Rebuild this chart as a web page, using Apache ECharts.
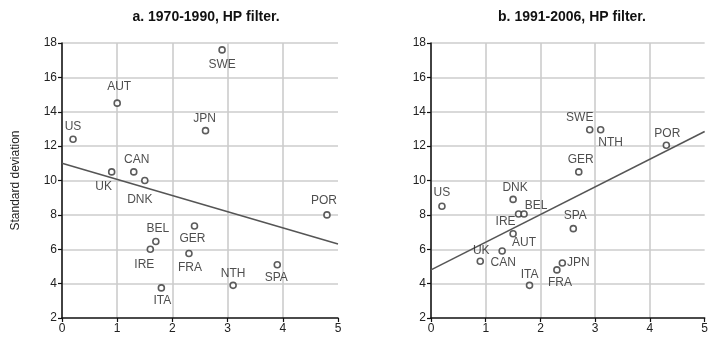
<!DOCTYPE html>
<html>
<head>
<meta charset="utf-8">
<script src="https://cdn.jsdelivr.net/npm/echarts@6/dist/echarts.min.js"></script>
<style>
html,body{margin:0;padding:0;background:#fff;}
#main{width:711px;height:339px;}
</style>
</head>
<body>
<div id="main"></div>
<script>
// 数据：各国 x / 标准差
var namesA=['US','AUT','SWE','JPN','CAN','UK','DNK','POR','BEL','IRE','GER','FRA','NTH','SPA','ITA'];
var xA=[0.2,1.0,2.9,2.6,1.3,0.9,1.5,4.8,1.7,1.6,2.4,2.3,3.1,3.9,1.8];
var yA=[12.4,14.5,17.6,12.9,10.5,10.5,10.0,8.0,6.45,6.0,7.35,5.75,3.9,5.1,3.75];
var lineA=[[0,11.0],[5,6.3]];

var namesB=['US','DNK','IRE','BEL','AUT','UK','CAN','ITA','FRA','JPN','SPA','GER','SWE','NTH','POR'];
var xB=[0.2,1.5,1.6,1.7,1.5,0.9,1.3,1.8,2.3,2.4,2.6,2.7,2.9,3.1,4.3];
var yB=[8.5,8.9,8.05,8.05,6.9,5.3,5.9,3.9,4.8,5.2,7.2,10.5,12.95,12.95,12.05];
var lineB=[[0,4.8],[5,12.85]];

var yTicks=[2,4,6,8,10,12,14,16,18];

// 标签偏移（样式）
var offA={US:[0,-13],AUT:[2,-16],SWE:[0,15],JPN:[-1,-12],CAN:[3,-12],UK:[-8,15],DNK:[-5,19],
	POR:[-3,-14],BEL:[2,-13],IRE:[-6,15],GER:[-2,13],FRA:[1,14],NTH:[0,-12],SPA:[-1,13],ITA:[1,13]};
var offB={US:[0,-14],DNK:[2,-12],IRE:[-13,8],BEL:[12,-8],AUT:[11,9],UK:[1,-11],CAN:[1,12],
	ITA:[0,-11],FRA:[3,13],JPN:[16,0],SPA:[2,-13],GER:[2,-12],SWE:[-10,-12],NTH:[10,13],POR:[1,-12]};

var font='"Liberation Sans", Arial, sans-serif';

function buildPoints(names,xs,ys,offs){
	var arr=[];
	for(var i=0;i<names.length;i++){
		arr.push({
			name:names[i],
			value:[xs[i],ys[i]],
			label:{offset:offs[names[i]]}
		});
	}
	return arr;
}

function xAxisOpt(idx){
	return {
		gridIndex:idx,type:'value',min:0,max:5,interval:1,
		axisLine:{show:true,onZero:false,lineStyle:{color:'#111',width:1.5}},
		axisTick:{show:true,length:4,lineStyle:{color:'#111',width:1.2}},
		axisLabel:{color:'#222',fontSize:12,fontFamily:font,margin:5},
		splitLine:{show:true,showMaxLine:false,lineStyle:{color:'#cccccc',width:1.6}}
	};
}
function yAxisOpt(idx,name){
	return {
		gridIndex:idx,type:'value',min:2,max:18,interval:2,
		name:name,nameLocation:'middle',nameGap:40,
		nameTextStyle:{color:'#222',fontSize:12,fontFamily:font},
		axisLine:{show:true,onZero:false,lineStyle:{color:'#111',width:1.5}},
		axisTick:{show:true,length:4,lineStyle:{color:'#111',width:1.2}},
		axisLabel:{color:'#222',fontSize:12,fontFamily:font,margin:5,
			formatter:function(v){return yTicks.indexOf(v)>=0?String(v):'';}},
		splitLine:{show:true,showMinLine:false,lineStyle:{color:'#cccccc',width:1.6}}
	};
}
function scatterSeries(idx,data){
	return {
		type:'scatter',xAxisIndex:idx,yAxisIndex:idx,data:data,
		symbol:'circle',symbolSize:6,z:3,
		itemStyle:{color:'#fff',borderColor:'#333',borderWidth:1.6},
		label:{show:true,position:'inside',formatter:'{b}',color:'#222',fontSize:12,fontFamily:font},
		emphasis:{disabled:true},silent:true
	};
}
function lineSeries(idx,data){
	return {
		type:'line',xAxisIndex:idx,yAxisIndex:idx,data:data,
		symbol:'none',z:2,silent:true,
		lineStyle:{color:'#555',width:1.5}
	};
}

var chart=echarts.init(document.getElementById('main'));
var option={
	backgroundColor:'#ffffff',
	animation:false,
	title:[
		{text:'a. 1970-1990, HP filter.',left:201,top:5,textAlign:'center',
			textStyle:{fontSize:14,fontWeight:'bold',color:'#111',fontFamily:font}},
		{text:'b. 1991-2006, HP filter.',left:567,top:5,textAlign:'center',
			textStyle:{fontSize:14,fontWeight:'bold',color:'#111',fontFamily:font}}
	],
	grid:[
		{left:62,right:373,top:43,bottom:21,containLabel:false},
		{left:431,right:5,top:43,bottom:21,containLabel:false}
	],
	xAxis:[xAxisOpt(0),xAxisOpt(1)],
	yAxis:[yAxisOpt(0,'Standard deviation'),yAxisOpt(1,'')],
	series:[
		lineSeries(0,lineA),
		scatterSeries(0,buildPoints(namesA,xA,yA,offA)),
		lineSeries(1,lineB),
		scatterSeries(1,buildPoints(namesB,xB,yB,offB))
	]
};
chart.setOption(option);
</script>
</body>
</html>
